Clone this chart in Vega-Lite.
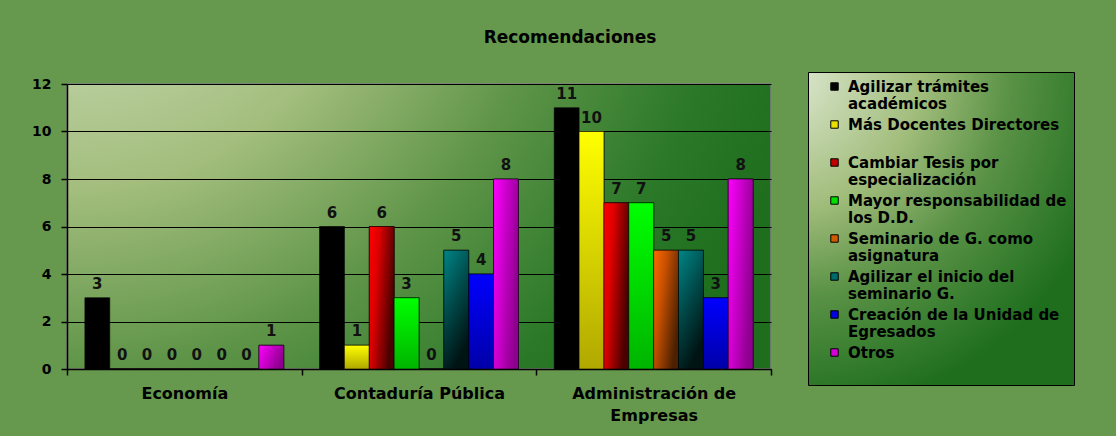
{
  "$schema": "https://vega.github.io/schema/vega-lite/v6.json",
  "width": 704,
  "height": 285,
  "autosize": {"type": "none"},
  "padding": {"left": 67, "top": 84, "right": 345, "bottom": 67},
  "background": "#66994d",
  "title": {"text": "Recomendaciones", "anchor": "middle", "frame": "group", "dx": 151, "offset": 25, "font": "DejaVu Sans", "fontSize": 17, "fontWeight": "bold", "color": "#000000"},
  "data": {"values": [
    {"carrera": "Economía", "recomendacion": "Agilizar trámites académicos", "valor": 3},
    {"carrera": "Economía", "recomendacion": "Más Docentes Directores", "valor": 0},
    {"carrera": "Economía", "recomendacion": "Cambiar Tesis por especialización", "valor": 0},
    {"carrera": "Economía", "recomendacion": "Mayor responsabilidad de los D.D.", "valor": 0},
    {"carrera": "Economía", "recomendacion": "Seminario de G. como asignatura", "valor": 0},
    {"carrera": "Economía", "recomendacion": "Agilizar el inicio del seminario G.", "valor": 0},
    {"carrera": "Economía", "recomendacion": "Creación de la Unidad de Egresados", "valor": 0},
    {"carrera": "Economía", "recomendacion": "Otros", "valor": 1},
    {"carrera": "Contaduría Pública", "recomendacion": "Agilizar trámites académicos", "valor": 6},
    {"carrera": "Contaduría Pública", "recomendacion": "Más Docentes Directores", "valor": 1},
    {"carrera": "Contaduría Pública", "recomendacion": "Cambiar Tesis por especialización", "valor": 6},
    {"carrera": "Contaduría Pública", "recomendacion": "Mayor responsabilidad de los D.D.", "valor": 3},
    {"carrera": "Contaduría Pública", "recomendacion": "Seminario de G. como asignatura", "valor": 0},
    {"carrera": "Contaduría Pública", "recomendacion": "Agilizar el inicio del seminario G.", "valor": 5},
    {"carrera": "Contaduría Pública", "recomendacion": "Creación de la Unidad de Egresados", "valor": 4},
    {"carrera": "Contaduría Pública", "recomendacion": "Otros", "valor": 8},
    {"carrera": "Administración de Empresas", "recomendacion": "Agilizar trámites académicos", "valor": 11},
    {"carrera": "Administración de Empresas", "recomendacion": "Más Docentes Directores", "valor": 10},
    {"carrera": "Administración de Empresas", "recomendacion": "Cambiar Tesis por especialización", "valor": 7},
    {"carrera": "Administración de Empresas", "recomendacion": "Mayor responsabilidad de los D.D.", "valor": 7},
    {"carrera": "Administración de Empresas", "recomendacion": "Seminario de G. como asignatura", "valor": 5},
    {"carrera": "Administración de Empresas", "recomendacion": "Agilizar el inicio del seminario G.", "valor": 5},
    {"carrera": "Administración de Empresas", "recomendacion": "Creación de la Unidad de Egresados", "valor": 3},
    {"carrera": "Administración de Empresas", "recomendacion": "Otros", "valor": 8}
  ]},
  "encoding": {
    "x": {
      "field": "carrera", "type": "nominal", "sort": null,
      "scale": {"domain": ["Economía", "Contaduría Pública", "Administración de Empresas"], "paddingInner": 0, "paddingOuter": 0},
      "axis": {
        "title": null, "labelAngle": 0, "tickBand": "extent", "grid": false,
        "domainColor": "#000000", "domainWidth": 1.5, "tickColor": "#000000", "tickSize": 6, "tickWidth": 1.5,
        "labelFont": "DejaVu Sans", "labelFontSize": 16, "labelFontWeight": "bold", "labelColor": "#000000",
        "labelPadding": 10, "labelLineHeight": 22, "labelLimit": 300,
        "labelExpr": "datum.value == 'Administración de Empresas' ? ['Administración de', 'Empresas'] : datum.value"
      }
    },
    "xOffset": {"field": "recomendacion", "type": "nominal", "sort": null, "scale": {"domain": ["Agilizar trámites académicos", "Más Docentes Directores", "Cambiar Tesis por especialización", "Mayor responsabilidad de los D.D.", "Seminario de G. como asignatura", "Agilizar el inicio del seminario G.", "Creación de la Unidad de Egresados", "Otros"], "paddingInner": 0, "paddingOuter": 0.72}},
    "y": {
      "field": "valor", "type": "quantitative",
      "scale": {"domain": [0, 12], "nice": false},
      "axis": {
        "title": null, "values": [0, 2, 4, 6, 8, 10, 12], "grid": true, "gridColor": "#000000", "gridWidth": 1,
        "domainColor": "#000000", "domainWidth": 1.5, "tickColor": "#000000", "tickSize": 6, "tickWidth": 1.5,
        "labelFont": "DejaVu Sans", "labelFontSize": 14, "labelFontWeight": "bold", "labelColor": "#000000", "labelPadding": 10
      }
    }
  },
  "layer": [
    {
      "mark": {"type": "bar", "stroke": "#000000", "strokeWidth": 1, "strokeOpacity": 0.6},
      "encoding": {
        "color": {
          "field": "recomendacion", "type": "nominal", "sort": null,
          "scale": {
            "domain": ["Agilizar trámites académicos", "Más Docentes Directores", "Cambiar Tesis por especialización", "Mayor responsabilidad de los D.D.", "Seminario de G. como asignatura", "Agilizar el inicio del seminario G.", "Creación de la Unidad de Egresados", "Otros"],
            "range": ["#000000", "#e8e000", "#c00000", "#00e000", "#d05a00", "#006a6a", "#0000e0", "#d800d8"]
          },
          "legend": {
            "title": null, "orient": "none", "legendX": 741, "legendY": -12, "padding": 7,
            "fillColor": {"expr": "{gradient: 'radial', x1: 0, y1: 0, r1: 0, x2: 0, y2: 0, r2: 1.1, stops: [{offset: 0, color: '#dfe9d3'}, {offset: 0.4, color: '#a0bc7a'}, {offset: 0.65, color: '#5a9246'}, {offset: 1, color: '#1e6e1e'}]}"},
            "strokeColor": "#000000",
            "symbolType": "square", "symbolSize": 55, "symbolStrokeColor": "#000000", "symbolStrokeWidth": 1,
            "symbolOffset": 12, "labelOffset": 6,
            "labelFont": "DejaVu Sans", "labelFontSize": 15, "labelFontWeight": "bold", "labelColor": "#000000",
            "labelLineHeight": 17, "rowPadding": 5, "labelLimit": 400,
            "labelExpr": "datum.label == 'Agilizar trámites académicos' ? ['Agilizar trámites', 'académicos'] : datum.label == 'Más Docentes Directores' ? ['Más Docentes Directores', ''] : datum.label == 'Cambiar Tesis por especialización' ? ['Cambiar Tesis por', 'especialización'] : datum.label == 'Mayor responsabilidad de los D.D.' ? ['Mayor responsabilidad de', 'los D.D.'] : datum.label == 'Seminario de G. como asignatura' ? ['Seminario de G. como', 'asignatura'] : datum.label == 'Agilizar el inicio del seminario G.' ? ['Agilizar el inicio del', 'seminario G.'] : datum.label == 'Creación de la Unidad de Egresados' ? ['Creación de la Unidad de', 'Egresados'] : ['Otros', '']"
          }
        }
      }
    },
    {
      "transform": [{"filter": "datum.recomendacion == 'Más Docentes Directores'"}],
      "mark": {"type": "bar", "stroke": "#000000", "strokeWidth": 1, "strokeOpacity": 0.6, "fill": {"gradient": "linear", "x1": 0, "y1": 0, "x2": 0, "y2": 1, "stops": [{"offset": 0, "color": "#ffff00"}, {"offset": 1, "color": "#b0a800"}]}},
      "encoding": {}
    },
    {
      "transform": [{"filter": "datum.recomendacion == 'Cambiar Tesis por especialización'"}],
      "mark": {"type": "bar", "stroke": "#000000", "strokeWidth": 1, "strokeOpacity": 0.6, "fill": {"gradient": "linear", "x1": 0, "y1": 0, "x2": 1, "y2": 0.4, "stops": [{"offset": 0, "color": "#ff0000"}, {"offset": 0.35, "color": "#e00000"}, {"offset": 1, "color": "#4a0000"}]}},
      "encoding": {}
    },
    {
      "transform": [{"filter": "datum.recomendacion == 'Mayor responsabilidad de los D.D.'"}],
      "mark": {"type": "bar", "stroke": "#000000", "strokeWidth": 1, "strokeOpacity": 0.6, "fill": {"gradient": "linear", "x1": 0, "y1": 0, "x2": 0, "y2": 1, "stops": [{"offset": 0, "color": "#00ff00"}, {"offset": 1, "color": "#00b400"}]}},
      "encoding": {}
    },
    {
      "transform": [{"filter": "datum.recomendacion == 'Seminario de G. como asignatura'"}],
      "mark": {"type": "bar", "stroke": "#000000", "strokeWidth": 1, "strokeOpacity": 0.6, "fill": {"gradient": "linear", "x1": 0, "y1": 0, "x2": 1, "y2": 0.6, "stops": [{"offset": 0, "color": "#ff6a00"}, {"offset": 0.4, "color": "#c85000"}, {"offset": 1, "color": "#4a2000"}]}},
      "encoding": {}
    },
    {
      "transform": [{"filter": "datum.recomendacion == 'Agilizar el inicio del seminario G.'"}],
      "mark": {"type": "bar", "stroke": "#000000", "strokeWidth": 1, "strokeOpacity": 0.6, "fill": {"gradient": "linear", "x1": 0, "y1": 0, "x2": 0.4, "y2": 1, "stops": [{"offset": 0, "color": "#008585"}, {"offset": 0.5, "color": "#004a4a"}, {"offset": 1, "color": "#001414"}]}},
      "encoding": {}
    },
    {
      "transform": [{"filter": "datum.recomendacion == 'Creación de la Unidad de Egresados'"}],
      "mark": {"type": "bar", "stroke": "#000000", "strokeWidth": 1, "strokeOpacity": 0.6, "fill": {"gradient": "linear", "x1": 0, "y1": 0, "x2": 0, "y2": 1, "stops": [{"offset": 0, "color": "#0000ff"}, {"offset": 1, "color": "#0000a8"}]}},
      "encoding": {}
    },
    {
      "transform": [{"filter": "datum.recomendacion == 'Otros'"}],
      "mark": {"type": "bar", "stroke": "#000000", "strokeWidth": 1, "strokeOpacity": 0.6, "fill": {"gradient": "linear", "x1": 0, "y1": 0, "x2": 1, "y2": 0.4, "stops": [{"offset": 0, "color": "#ff00ff"}, {"offset": 1, "color": "#900090"}]}},
      "encoding": {}
    },
    {
      "mark": {"type": "text", "baseline": "bottom", "dy": -6, "font": "DejaVu Sans", "fontSize": 15, "fontWeight": "bold", "color": "#111111"},
      "encoding": {"text": {"field": "valor", "type": "quantitative"}}
    }
  ],
  "config": {
    "view": {
      "stroke": "#808080", "strokeWidth": 1.5,
      "fill": {"gradient": "radial", "x1": 0, "y1": 0, "r1": 0, "x2": 0, "y2": 0, "r2": 1.1, "stops": [{"offset": 0, "color": "#dfe9d3"}, {"offset": 0.41, "color": "#a2bd7c"}, {"offset": 0.64, "color": "#5e9448"}, {"offset": 0.86, "color": "#2a7828"}, {"offset": 1, "color": "#1e6e1e"}]}
    }
  }
}
